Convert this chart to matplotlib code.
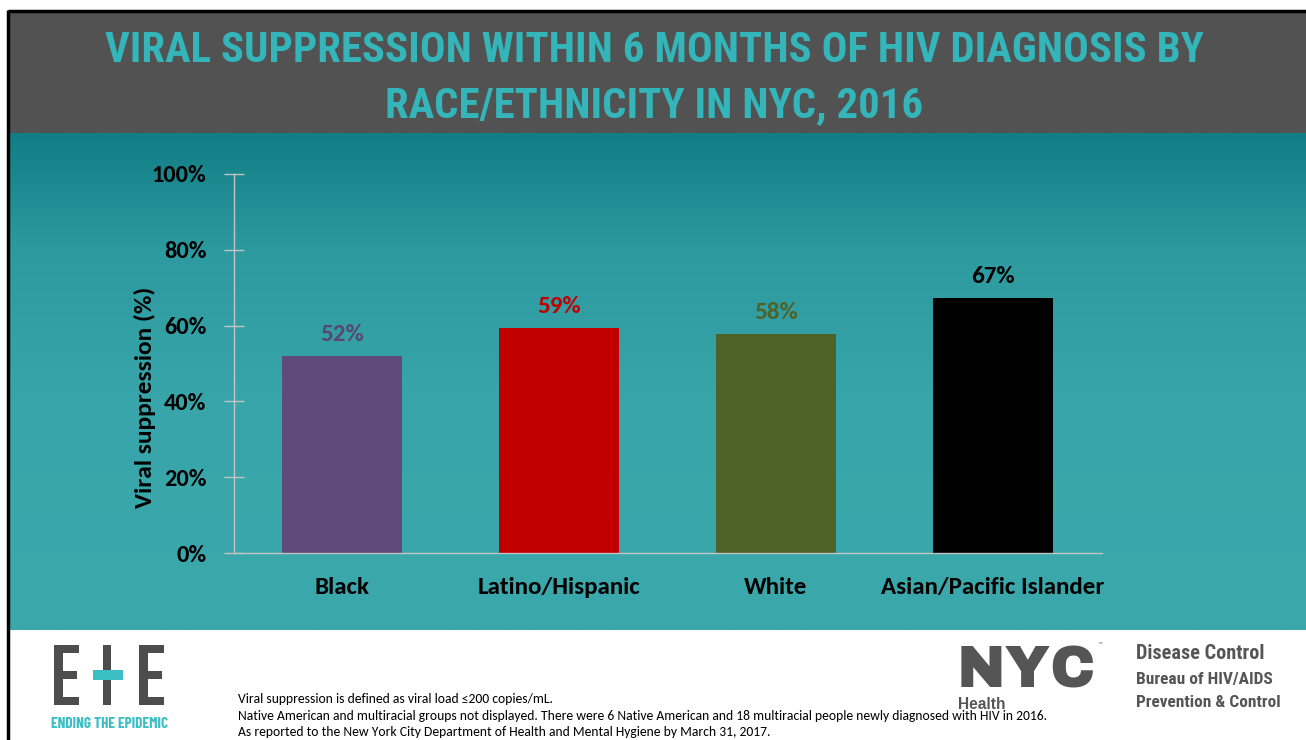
import matplotlib
matplotlib.use("Agg")
import matplotlib.pyplot as plt
import numpy as np
from matplotlib.patches import Rectangle

# ---------------- data ----------------
categories = ["Black", "Latino/Hispanic", "White", "Asian/Pacific Islander"]
values = [0.52, 0.594, 0.578, 0.673]
bar_colors = ["#604A7B", "#C00000", "#4F6228", "#000000"]
label_colors = ["#5A4673", "#C00000", "#4F6228", "#000000"]
yticks = [0, 0.2, 0.4, 0.6, 0.8, 1.0]
ytick_labels = ["0%", "20%", "40%", "60%", "80%", "100%"]
title_lines = ["VIRAL SUPPRESSION WITHIN 6 MONTHS OF HIV DIAGNOSIS BY",
               "RACE/ETHNICITY IN NYC, 2016"]
ylabel = "Viral suppression (%)"
footnotes = ["Viral suppression is defined as viral load \u2264200 copies/mL.",
             "Native American and multiracial groups not displayed. There were 6 Native American and 18 multiracial people newly diagnosed with HIV in 2016.",
             "As reported to the New York City Department of Health and Mental Hygiene by March 31, 2017."]
org_lines = ["Disease Control", "Bureau of HIV/AIDS", "Prevention & Control"]

W, H = 1306, 740
BODY = ["Carlito", "Lato", "DejaVu Sans"]
COND = ["Roboto Condensed", "DejaVu Sans"]
NARROW = ["Barlow Condensed", "Roboto Condensed", "DejaVu Sans"]

fig = plt.figure(figsize=(W / 100, H / 100), dpi=100)
fig.patch.set_facecolor("white")

# background / decoration axes in pixel coordinates (y downward)
bg = fig.add_axes([0, 0, 1, 1], zorder=-10)
bg.set_xlim(0, W)
bg.set_ylim(H, 0)
bg.axis("off")

# teal gradient panel
ys = np.linspace(133, 630, 300)
stops_y = [133, 250, 400, 630]
stops_c = np.array([[16, 126, 132], [44, 154, 159], [56, 165, 170], [59, 168, 172]]) / 255.0
grad = np.stack([np.interp(ys, stops_y, stops_c[:, k]) for k in range(3)], axis=-1)
grad = grad[:, None, :]
bg.imshow(grad, extent=[9, W, 630, 133], aspect="auto", interpolation="bilinear", zorder=0)

# title band
bg.add_patch(Rectangle((9, 12), W - 9, 121, facecolor="#525252", edgecolor="none", zorder=1))
# black frame (top and left)
bg.plot([7.5, W], [11, 11], color="black", lw=2.5, solid_capstyle="butt", zorder=3)
bg.plot([8, 8], [10, H], color="black", lw=2.5, solid_capstyle="butt", zorder=3)

# title
title_color = "#33B5B9"
bg.text(654, 62, title_lines[0], ha="center", va="baseline", color=title_color,
        fontsize=30.8, fontweight="bold", family=COND, zorder=4)
bg.text(654.5, 117, title_lines[1], ha="center", va="baseline", color=title_color,
        fontsize=30.8, fontweight="bold", family=COND, zorder=4)

# E+E logo
grey = "#4D4D4D"
teal = "#3BBFC4"
for x0 in (54, 139):
    bg.add_patch(Rectangle((x0, 645), 8.5, 60, facecolor=grey, edgecolor="none", zorder=2))
    bg.add_patch(Rectangle((x0, 645), 25, 8, facecolor=grey, edgecolor="none", zorder=2))
    bg.add_patch(Rectangle((x0, 671), 23, 7.5, facecolor=grey, edgecolor="none", zorder=2))
    bg.add_patch(Rectangle((x0, 697), 25, 8, facecolor=grey, edgecolor="none", zorder=2))
bg.add_patch(Rectangle((103, 645), 8, 60, facecolor=grey, edgecolor="none", zorder=2))
bg.add_patch(Rectangle((93, 670), 30, 10, facecolor=teal, edgecolor="none", zorder=3))
bg.text(110, 728, "ENDING THE EPIDEMIC", ha="center", va="baseline", color=teal,
        fontsize=11, fontweight="bold", family=NARROW, zorder=4)

# footnotes
for i, line in enumerate(footnotes):
    bg.text(238, 703 + i * 16.5, line, ha="left", va="baseline", color="black",
            fontsize=9.8, family=BODY, zorder=4)

# NYC Health logo
logo_grey = "#555555"
bg.text(1026, 687, "NYC", ha="center", va="baseline", color=logo_grey,
        fontsize=42, family=["Archivo Black", "DejaVu Sans"], zorder=4)
bg.text(1097, 646, "\u2122", ha="left", va="center", color=logo_grey, fontsize=4, family=["DejaVu Sans"], zorder=4)
bg.text(958, 709, "Health", ha="left", va="baseline", color=logo_grey,
        fontsize=11.2, fontweight="bold", family=["Liberation Sans", "DejaVu Sans"], zorder=4)

# organisation text
bg.text(1136, 659, org_lines[0], ha="left", va="baseline", color=logo_grey,
        fontsize=14.6, fontweight="bold", family=COND, zorder=4)
bg.text(1136, 684, org_lines[1], ha="left", va="baseline", color=logo_grey,
        fontsize=12.5, fontweight="bold", family=COND, zorder=4)
bg.text(1136, 707, org_lines[2], ha="left", va="baseline", color=logo_grey,
        fontsize=12.4, fontweight="bold", family=COND, zorder=4)

# ---------------- main chart ----------------
ax_l, ax_r, ax_t, ax_b = 233.5, 1101.5, 174, 553
ax = fig.add_axes([ax_l / W, (H - ax_b) / H, (ax_r - ax_l) / W, (ax_b - ax_t) / H])
ax.set_facecolor("none")
x = np.arange(len(categories))
bars = ax.bar(x, values, width=0.553, color=bar_colors, zorder=2)
ax.set_xlim(-0.5, len(categories) - 0.5)
ax.set_ylim(0, 1.0)

axis_color = "#C4C4C4"
for side in ("top", "right"):
    ax.spines[side].set_visible(False)
for side in ("left", "bottom"):
    ax.spines[side].set_color(axis_color)
    ax.spines[side].set_linewidth(1.0)

ax.set_yticks(yticks)
ax.set_yticklabels(ytick_labels, family=BODY, fontweight="bold", fontsize=17.5, color="black")
ax.tick_params(axis="y", direction="inout", length=15, width=1, color=axis_color, pad=12)
ax.set_xticks(x)
ax.set_xticklabels(categories, family=BODY, fontweight="bold", fontsize=18, color="black")
ax.tick_params(axis="x", length=0, pad=17.5)

for b, v, c in zip(bars, values, label_colors):
    ax.annotate(f"{round(v * 100)}%", (b.get_x() + b.get_width() / 2, v),
                xytext=(0, 11), textcoords="offset points", ha="center", va="baseline",
                color=c, fontsize=18, fontweight="bold", family=BODY)

ax.set_ylabel(ylabel, family=BODY, fontweight="bold", fontsize=18.3, color="black", va="center")
ax.yaxis.set_label_coords((145 - ax_l) / (ax_r - ax_l), (ax_b - 397) / (ax_b - ax_t))

fig.savefig("out.png", dpi=100)
